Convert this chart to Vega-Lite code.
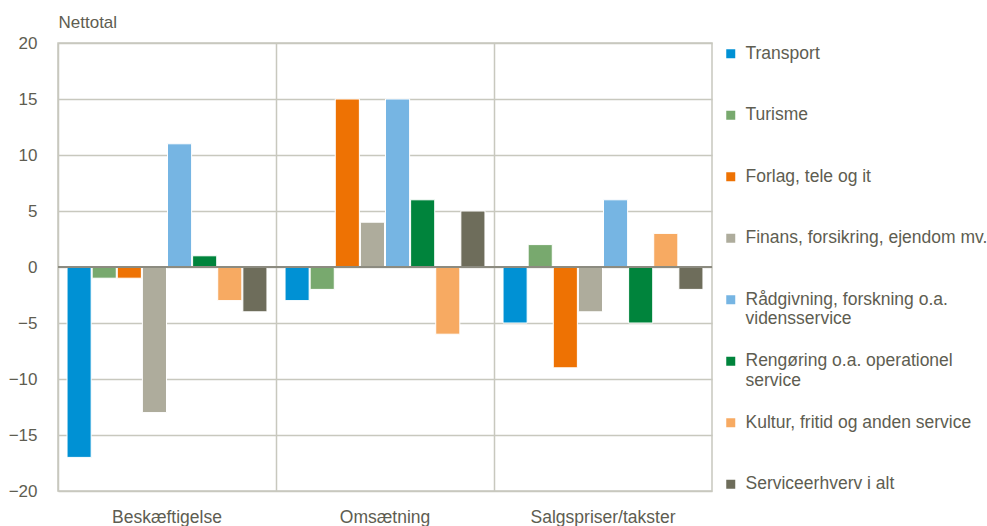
{
  "$schema": "https://vega.github.io/schema/vega-lite/v6.json",
  "width": 654,
  "height": 448,
  "autosize": "none",
  "padding": {"left": 58, "top": 43, "right": 275, "bottom": 35},
  "background": "white",
  "config": {
    "view": {"stroke": "#C8C8BE", "strokeWidth": 1.5},
    "font": "Liberation Sans"
  },
  "data": {
    "values": [
      {"category": "Beskæftigelse", "series": "Transport", "value": -17},
      {"category": "Beskæftigelse", "series": "Turisme", "value": -1},
      {"category": "Beskæftigelse", "series": "Forlag, tele og it", "value": -1},
      {"category": "Beskæftigelse", "series": "Finans, forsikring, ejendom mv.", "value": -13},
      {"category": "Beskæftigelse", "series": "Rådgivning, forskning o.a. vidensservice", "value": 11},
      {"category": "Beskæftigelse", "series": "Rengøring o.a. operationel service", "value": 1},
      {"category": "Beskæftigelse", "series": "Kultur, fritid og anden service", "value": -3},
      {"category": "Beskæftigelse", "series": "Serviceerhverv i alt", "value": -4},
      {"category": "Omsætning", "series": "Transport", "value": -3},
      {"category": "Omsætning", "series": "Turisme", "value": -2},
      {"category": "Omsætning", "series": "Forlag, tele og it", "value": 15},
      {"category": "Omsætning", "series": "Finans, forsikring, ejendom mv.", "value": 4},
      {"category": "Omsætning", "series": "Rådgivning, forskning o.a. vidensservice", "value": 15},
      {"category": "Omsætning", "series": "Rengøring o.a. operationel service", "value": 6},
      {"category": "Omsætning", "series": "Kultur, fritid og anden service", "value": -6},
      {"category": "Omsætning", "series": "Serviceerhverv i alt", "value": 5},
      {"category": "Salgspriser/takster", "series": "Transport", "value": -5},
      {"category": "Salgspriser/takster", "series": "Turisme", "value": 2},
      {"category": "Salgspriser/takster", "series": "Forlag, tele og it", "value": -9},
      {"category": "Salgspriser/takster", "series": "Finans, forsikring, ejendom mv.", "value": -4},
      {"category": "Salgspriser/takster", "series": "Rådgivning, forskning o.a. vidensservice", "value": 6},
      {"category": "Salgspriser/takster", "series": "Rengøring o.a. operationel service", "value": -5},
      {"category": "Salgspriser/takster", "series": "Kultur, fritid og anden service", "value": 3},
      {"category": "Salgspriser/takster", "series": "Serviceerhverv i alt", "value": -2}
    ]
  },
  "layer": [
    {
      "mark": {"type": "bar", "stroke": "white", "strokeWidth": 1},
      "encoding": {
        "x": {
          "field": "category",
          "type": "nominal",
          "sort": ["Beskæftigelse", "Omsætning", "Salgspriser/takster"],
          "scale": {"paddingInner": 0, "paddingOuter": 0},
          "axis": {
            "title": null,
            "labelAngle": 0,
            "labelFontSize": 17.5,
            "labelColor": "#5E5D51",
            "labelBaseline": "top",
            "labelPadding": 17,
            "domain": false,
            "ticks": false,
            "grid": true,
            "bandPosition": 0,
            "gridColor": "#C8C8BE",
            "gridWidth": 1.5
          }
        },
        "xOffset": {
          "field": "series",
          "type": "nominal",
          "sort": ["Transport", "Turisme", "Forlag, tele og it", "Finans, forsikring, ejendom mv.", "Rådgivning, forskning o.a. vidensservice", "Rengøring o.a. operationel service", "Kultur, fritid og anden service", "Serviceerhverv i alt"],
          "scale": {"paddingInner": 0.04, "paddingOuter": 0.36}
        },
        "y": {
          "field": "value",
          "type": "quantitative",
          "scale": {"domain": [-20, 20], "nice": false},
          "axis": {
            "title": "Nettotal",
            "titleAngle": 0,
            "titleX": 0,
            "titleY": -21,
            "titleAlign": "left",
            "titleBaseline": "middle",
            "titleFontSize": 17,
            "titleFontWeight": "normal",
            "titleColor": "#5E5D51",
            "values": [-20, -15, -10, -5, 0, 5, 10, 15, 20],
            "labelFontSize": 17,
            "labelColor": "#5E5D51",
            "labelPadding": 21,
            "domain": false,
            "ticks": false,
            "gridColor": "#C8C8BE",
            "gridWidth": 1.5
          }
        },
        "color": {
          "field": "series",
          "type": "nominal",
          "scale": {
            "domain": ["Transport", "Turisme", "Forlag, tele og it", "Finans, forsikring, ejendom mv.", "Rådgivning, forskning o.a. vidensservice", "Rengøring o.a. operationel service", "Kultur, fritid og anden service", "Serviceerhverv i alt"],
            "range": ["#0091D4", "#78A96E", "#EE7203", "#AEAC9C", "#76B5E3", "#00843C", "#F7AA62", "#6E6D5B"]
          },
          "legend": {
            "title": null,
            "orient": "none",
            "legendX": 664,
            "legendY": 2,
            "padding": 0,
            "symbolType": "square",
            "symbolSize": 81,
            "symbolStrokeWidth": 0,
            "labelFontSize": 17.5,
            "labelColor": "#5E5D51",
            "labelOffset": 6,
            "labelLimit": 0,
            "gridAlign": "all",
            "rowPadding": 23.5,
            "labelExpr": "datum.label == 'Rådgivning, forskning o.a. vidensservice' ? ['Rådgivning, forskning o.a.', 'vidensservice'] : datum.label == 'Rengøring o.a. operationel service' ? ['Rengøring o.a. operationel', 'service'] : datum.label"
          }
        }
      }
    },
    {
      "mark": {"type": "rule", "color": "#8C8B80", "strokeWidth": 2},
      "encoding": {"y": {"datum": 0}}
    }
  ]
}
